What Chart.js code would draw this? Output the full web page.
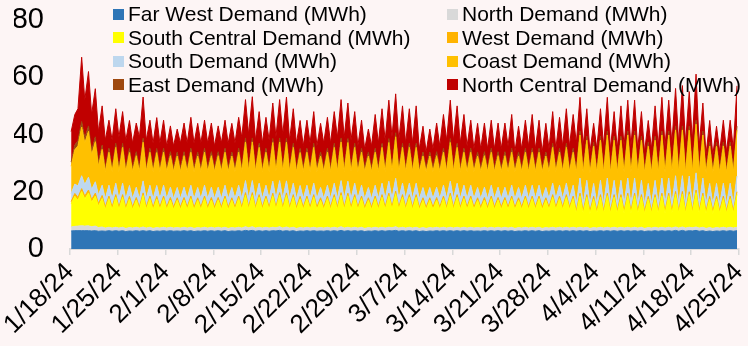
<!DOCTYPE html>
<html>
<head>
<meta charset="utf-8">
<script src="https://cdn.jsdelivr.net/npm/chart.js@4.4.1/dist/chart.umd.min.js"></script>
<style>
  html, body { margin: 0; padding: 0; background: #fdf5f5; }
  #wrap { position: relative; width: 748px; height: 346px; }
  #legend { position: absolute; left: 0; top: 0; width: 748px; height: 100px; pointer-events: none;
            font-family: "Liberation Sans", Arial, sans-serif; font-size: 21px; color: #000; }
  .item { position: absolute; height: 23.5px; line-height: 23.5px; white-space: nowrap; }
  .box { position: absolute; left: 0; top: 6.5px; width: 11px; height: 11px; }
  .txt { position: absolute; left: 15px; top: 0; }
</style>
</head>
<body>
<div id="wrap">
  <canvas id="chart" width="748" height="346"></canvas>
  <div id="legend"></div>
</div>
<script>
// Two readings per day (night low, evening high), 1/18/24 .. 4/24/24
const dayCount = 98;
const sampleHours = [4, 17];
const tickLabels = ['1/18/24', '1/25/24', '2/1/24', '2/8/24', '2/15/24', '2/22/24', '2/29/24',
  '3/7/24', '3/14/24', '3/21/24', '3/28/24', '4/4/24', '4/11/24', '4/18/24', '4/25/24'];

const seriesNames = ['Far West Demand (MWh)', 'North Demand (MWh)', 'South Central Demand (MWh)',
  'West Demand (MWh)', 'South Demand (MWh)', 'Coast Demand (MWh)', 'East Demand (MWh)',
  'North Central Demand (MWh)'];
const seriesColors = ['#2e75b6', '#d9d9d9', '#ffff00', '#ffb300', '#bdd7ee', '#ffc000', '#9e480e', '#c00000'];

// values per week row (7 days x [low, high])
const farWest = [
  6.3,6.4, 6.4,6.4, 6.4,6.4, 6.3,6.4, 6.2,6.3, 6.2,6.4, 6.2,6.4,
  6.2,6.4, 6.1,6.3, 6.2,6.4, 6.2,6.4, 6.2,6.4, 6.1,6.3, 6.2,6.4,
  6.2,6.4, 6.2,6.3, 6.2,6.4, 6.2,6.4, 6.1,6.3, 6.2,6.4, 6.2,6.4,
  6.2,6.4, 6.2,6.4, 6.1,6.3, 6.2,6.4, 6.2,6.5, 6.3,6.5, 6.2,6.4,
  6.2,6.4, 6.2,6.4, 6.3,6.5, 6.2,6.4, 6.2,6.4, 6.1,6.3, 6.2,6.4,
  6.2,6.4, 6.2,6.3, 6.2,6.4, 6.2,6.4, 6.2,6.5, 6.2,6.4, 6.2,6.4,
  6.2,6.4, 6.1,6.3, 6.2,6.4, 6.2,6.4, 6.2,6.4, 6.3,6.5, 6.2,6.4,
  6.2,6.4, 6.2,6.4, 6.1,6.3, 6.1,6.3, 6.2,6.4, 6.2,6.4, 6.2,6.4,
  6.2,6.4, 6.2,6.4, 6.2,6.4, 6.2,6.3, 6.2,6.4, 6.2,6.4, 6.2,6.4,
  6.2,6.4, 6.2,6.4, 6.1,6.3, 6.2,6.4, 6.2,6.4, 6.2,6.4, 6.1,6.3,
  6.2,6.4, 6.2,6.4, 6.2,6.4, 6.2,6.4, 6.2,6.4, 6.2,6.4, 6.1,6.3,
  6.2,6.4, 6.2,6.4, 6.2,6.4, 6.2,6.4, 6.2,6.4, 6.2,6.4, 6.2,6.4,
  6.1,6.3, 6.2,6.4, 6.2,6.4, 6.2,6.4, 6.2,6.5, 6.2,6.5, 6.2,6.4,
  6.3,6.5, 6.2,6.4, 6.1,6.3, 6.1,6.3, 6.2,6.4, 6.2,6.4, 6.2,6.4
];
const north = [
  1.4,1.5, 1.6,1.7, 1.6,1.7, 1.5,1.6, 1.3,1.4, 1.1,1.2, 1.1,1.2,
  1.1,1.2, 1.1,1.2, 1.1,1.2, 1.1,1.3, 1.1,1.2, 1.1,1.2, 1.1,1.2,
  1.1,1.2, 1.1,1.2, 1.1,1.2, 1.1,1.2, 1.1,1.2, 1.1,1.2, 1.1,1.2,
  1.1,1.2, 1.1,1.2, 1.1,1.2, 1.1,1.2, 1.1,1.3, 1.1,1.3, 1.1,1.2,
  1.1,1.2, 1.1,1.2, 1.1,1.3, 1.1,1.3, 1.1,1.2, 1.1,1.2, 1.1,1.2,
  1.1,1.2, 1.1,1.2, 1.1,1.2, 1.1,1.2, 1.1,1.3, 1.1,1.2, 1.1,1.2,
  1.1,1.2, 1.1,1.2, 1.1,1.2, 1.1,1.2, 1.1,1.2, 1.1,1.3, 1.1,1.2,
  1.1,1.2, 1.1,1.2, 1.1,1.2, 1.1,1.2, 1.1,1.2, 1.1,1.2, 1.1,1.2,
  1.1,1.2, 1.1,1.2, 1.1,1.2, 1.1,1.2, 1.1,1.2, 1.1,1.2, 1.1,1.2,
  1.1,1.2, 1.1,1.2, 1.1,1.2, 1.1,1.2, 1.1,1.2, 1.1,1.2, 1.1,1.2,
  1.1,1.2, 1.1,1.2, 1.1,1.2, 1.1,1.2, 1.1,1.2, 1.1,1.2, 1.1,1.2,
  1.1,1.2, 1.1,1.2, 1.1,1.2, 1.1,1.2, 1.1,1.2, 1.1,1.2, 1.1,1.2,
  1.1,1.2, 1.1,1.2, 1.1,1.2, 1.1,1.2, 1.1,1.2, 1.1,1.2, 1.1,1.2,
  1.1,1.2, 1.1,1.2, 1.1,1.2, 1.1,1.2, 1.1,1.2, 1.1,1.2, 1.1,1.2
];
const southCentral = [
  8,10.5, 9,12, 9.5,11.5, 8.5,10.5, 7.5,10, 6.5,10, 6.5,10.5,
  6.5,10.5, 6.5,10, 6.5,9.5, 6.5,11, 6.5,10, 6.5,10, 6.5,10,
  6.5,9.5, 6.5,9.5, 6.5,9.5, 6.5,10, 6.5,9.5, 6.5,10, 6.5,9.5,
  6.5,9.5, 6.5,10, 6.5,9.5, 6.5,10, 6.5,11, 6.5,11, 6.5,10.5,
  6.5,10, 6.5,11, 6.5,11, 6.5,11, 6.5,10.5, 6.5,10, 6.5,10,
  6.5,10.5, 6.5,9.5, 6.5,10, 6.5,10.5, 6.5,11, 6.5,11, 6.5,10.5,
  6.5,10, 6.5,9.5, 6.5,10, 6.5,10.5, 6.5,11, 6.5,11.5, 6.5,10.5,
  6.5,10.5, 6.5,10.5, 6.5,9.5, 6.5,9.5, 6.5,9.5, 6.5,10, 6.5,11,
  6.5,10.5, 6.5,10, 6.5,10, 6.5,9.5, 6.5,9.5, 6.5,10, 6.5,9.5,
  6.5,9.5, 6.5,10, 6.5,9.5, 6.5,10, 6.5,10, 6.5,10, 6.5,9.5,
  6.5,10.5, 6.5,10, 6.5,10.5, 6.5,10, 5.2,11, 5.2,10.5, 5.2,10,
  5.2,10.5, 5.2,11, 5.2,10.5, 5.2,10.5, 5.2,11, 5.2,11, 5.2,10.5,
  5.2,10, 5.2,10.5, 5.2,11, 5.2,11, 5.2,11.5, 5.2,11.5, 5.2,11.5,
  5.2,12, 5.2,11, 5.2,10, 5.2,10, 5.2,10, 5.2,10, 5.2,11.5
];
const west = [
  0.9,1, 1,1, 1,1, 1,1, 0.9,1, 0.9,0.9, 0.9,0.9,
  0.9,0.9, 0.9,0.9, 0.9,0.9, 0.9,0.9, 0.9,0.9, 0.9,0.9, 0.9,0.9,
  0.9,0.9, 0.9,0.9, 0.9,0.9, 0.9,0.9, 0.9,0.9, 0.9,0.9, 0.9,0.9,
  0.9,0.9, 0.9,0.9, 0.9,0.9, 0.9,0.9, 0.9,0.9, 0.9,0.9, 0.9,0.9,
  0.9,0.9, 0.9,0.9, 0.9,0.9, 0.9,0.9, 0.9,0.9, 0.9,0.9, 0.9,0.9,
  0.9,0.9, 0.9,0.9, 0.9,0.9, 0.9,0.9, 0.9,0.9, 0.9,0.9, 0.9,0.9,
  0.9,0.9, 0.9,0.9, 0.9,0.9, 0.9,0.9, 0.9,0.9, 0.9,0.9, 0.9,0.9,
  0.9,0.9, 0.9,0.9, 0.9,0.9, 0.9,0.9, 0.9,0.9, 0.9,0.9, 0.9,0.9,
  0.9,0.9, 0.9,0.9, 0.9,0.9, 0.9,0.9, 0.9,0.9, 0.9,0.9, 0.9,0.9,
  0.9,0.9, 0.9,0.9, 0.9,0.9, 0.9,0.9, 0.9,0.9, 0.9,0.9, 0.9,0.9,
  0.9,0.9, 0.9,0.9, 0.9,0.9, 0.9,0.9, 0.9,0.9, 0.9,0.9, 0.9,0.9,
  0.9,0.9, 0.9,0.9, 0.9,0.9, 0.9,0.9, 0.9,0.9, 0.9,0.9, 0.9,0.9,
  0.9,0.9, 0.9,0.9, 0.9,0.9, 0.9,0.9, 0.9,0.9, 0.9,0.9, 0.9,0.9,
  0.9,0.9, 0.9,0.9, 0.9,0.9, 0.9,0.9, 0.9,0.9, 0.9,0.9, 0.9,0.9
];
const south = [
  2.8,3.3, 4,4.5, 4,4.5, 3.5,4, 3,3.6, 2.9,3.8, 2.9,4,
  2.9,4, 2.9,3.8, 2.9,3.6, 2.9,4.2, 2.9,3.8, 2.9,3.8, 2.9,3.8,
  2.9,3.6, 2.9,3.6, 2.9,3.6, 2.9,3.8, 2.9,3.6, 2.9,3.8, 2.9,3.6,
  2.9,3.6, 2.9,3.8, 2.9,3.6, 2.9,3.8, 2.9,4.2, 2.9,4.2, 2.9,4,
  2.9,3.8, 2.9,4.2, 2.9,4.2, 2.9,4.2, 2.9,4, 2.9,3.8, 2.9,3.8,
  2.9,4, 2.9,3.6, 2.9,3.8, 2.9,4, 2.9,4.2, 2.9,4.2, 2.9,4,
  2.9,3.8, 2.9,3.6, 2.9,3.8, 2.9,4, 2.9,4.2, 2.9,4.5, 2.9,4,
  2.9,4, 2.9,4, 2.9,3.6, 2.9,3.6, 2.9,3.6, 2.9,3.8, 2.9,4.2,
  2.9,4, 2.9,3.8, 2.9,3.8, 2.9,3.6, 2.9,3.6, 2.9,3.8, 2.9,3.6,
  2.9,3.6, 2.9,3.8, 2.9,3.6, 2.9,3.8, 2.9,3.8, 2.9,3.8, 2.9,3.6,
  2.9,4, 2.9,3.8, 2.9,4, 2.9,3.8, 2.3,5.3, 2.3,5, 2.3,4.5,
  2.3,5, 2.3,5.3, 2.3,5, 2.3,5, 2.3,5.3, 2.3,5.3, 2.3,5,
  2.3,4.5, 2.3,5, 2.3,5.3, 2.3,5.3, 2.3,5.5, 2.3,5.5, 2.3,5.5,
  2.3,6, 2.3,5.3, 2.3,4.5, 2.3,4.5, 2.3,4.5, 2.3,4.5, 2.3,5.5
];
const coast = [
  9.5,12, 14,17, 14.5,16, 12,14, 10,12.5, 9.5,11.5, 9.5,12.5,
  9.5,12.5, 9.5,11.5, 9.5,11, 9.5,13.5, 9.5,11.5, 9.5,11.5, 9.5,11.5,
  9.5,11, 9.5,11, 9.5,11, 9.5,11.5, 9.5,11, 9.5,11.5, 9.5,11,
  9.5,11, 9.5,11.5, 9.5,11, 9.5,11.5, 9.5,13.5, 9.5,13.5, 9.5,12.5,
  9.5,11.5, 9.5,13.5, 9.5,13.5, 9.5,13.5, 9.5,12.5, 9.5,11.5, 9.5,11.5,
  9.5,12.5, 9.5,11, 9.5,11.5, 9.5,12.5, 9.5,13.5, 9.5,13.5, 9.5,12.5,
  9.5,11.5, 9.5,11, 9.5,11.5, 9.5,12.5, 9.5,13.5, 9.5,14.5, 9.5,12.5,
  9.5,12.5, 9.5,12.5, 9.5,11, 9.5,11, 9.5,11, 9.5,11.5, 9.5,13.5,
  9.5,12.5, 9.5,11.5, 9.5,11.5, 9.5,11, 9.5,11, 9.5,11.5, 9.5,11,
  9.5,11, 9.5,11.5, 9.5,11, 9.5,11.5, 9.5,11.5, 9.5,11.5, 9.5,11,
  9.5,12.5, 9.5,11.5, 9.5,12.5, 9.5,11.5, 11,15, 11,14, 11,13,
  11,14, 11,15, 11,14, 11,14, 11,15, 11,15, 11,14,
  11,13, 11,14, 11,15, 11,15, 11,16, 11,16, 11,16,
  11,17, 11,15, 11,13, 11,13, 11,13, 11,13, 11,16
];
const east = [
  1.5,1.6, 1.8,1.9, 1.8,1.9, 1.6,1.7, 1.4,1.5, 1.3,1.4, 1.3,1.4,
  1.3,1.4, 1.3,1.4, 1.3,1.4, 1.3,1.4, 1.3,1.4, 1.3,1.4, 1.3,1.4,
  1.3,1.4, 1.3,1.4, 1.3,1.4, 1.3,1.4, 1.3,1.4, 1.3,1.4, 1.3,1.4,
  1.3,1.4, 1.3,1.4, 1.3,1.4, 1.3,1.4, 1.3,1.4, 1.3,1.4, 1.3,1.4,
  1.3,1.4, 1.3,1.4, 1.3,1.4, 1.3,1.4, 1.3,1.4, 1.3,1.4, 1.3,1.4,
  1.3,1.4, 1.3,1.4, 1.3,1.4, 1.3,1.4, 1.3,1.4, 1.3,1.4, 1.3,1.4,
  1.3,1.4, 1.3,1.4, 1.3,1.4, 1.3,1.4, 1.3,1.4, 1.3,1.4, 1.3,1.4,
  1.3,1.4, 1.3,1.4, 1.3,1.4, 1.3,1.4, 1.3,1.4, 1.3,1.4, 1.3,1.4,
  1.3,1.4, 1.3,1.4, 1.3,1.4, 1.3,1.4, 1.3,1.4, 1.3,1.4, 1.3,1.4,
  1.3,1.4, 1.3,1.4, 1.3,1.4, 1.3,1.4, 1.3,1.4, 1.3,1.4, 1.3,1.4,
  1.3,1.4, 1.3,1.4, 1.3,1.4, 1.3,1.4, 1.3,1.4, 1.3,1.4, 1.3,1.4,
  1.3,1.4, 1.3,1.4, 1.3,1.4, 1.3,1.4, 1.3,1.4, 1.3,1.4, 1.3,1.4,
  1.3,1.4, 1.3,1.4, 1.3,1.4, 1.3,1.4, 1.3,1.4, 1.3,1.4, 1.3,1.4,
  1.3,1.4, 1.3,1.4, 1.3,1.4, 1.3,1.4, 1.3,1.4, 1.3,1.4, 1.3,1.4
];
const northCentral = [
  10.6,10.7, 11.2,22.5, 13.2,19, 12.6,16.8, 10.7,13.7, 9.6,9.8, 9.6,12.1,
  10.6,11.1, 9.6,9.8, 8.6,10, 10.6,14.4, 9.6,9.8, 8.6,10.8, 8.6,9.8,
  7.6,9, 7.6,8, 8.6,10, 8.6,10.8, 8.6,10, 8.6,9.8, 8.6,10,
  7.6,9, 8.6,9.8, 8.6,10, 8.6,10.8, 10.6,13.4, 11.6,14.4, 9.6,11.1,
  8.6,10.8, 9.6,12.4, 10.6,13.4, 11.6,14.4, 9.6,12.1, 8.6,9.8, 7.6,9.8,
  8.6,11.1, 7.6,10, 8.6,10.8, 8.6,11.1, 10.6,13.4, 10.6,12.4, 9.6,11.1,
  7.6,9.8, 6.6,8, 7.6,11.8, 8.6,12.1, 9.6,13.4, 10.6,13.6, 9.6,13.1,
  8.6,12.1, 8.6,13.1, 6.6,9, 5.6,8, 6.6,10, 7.6,11.8, 9.6,13.4,
  9.6,13.1, 8.6,11.8, 7.6,9.8, 6.6,10, 6.6,10, 6.6,9.8, 6.6,10,
  6.6,10, 7.6,11.8, 5.6,9, 6.6,9.8, 7.6,11.8, 6.6,9.8, 5.6,10,
  6.6,11.1, 6.6,10.8, 7.6,12.1, 7.6,11.8, 9,11.8, 8,9.6, 6,6.6,
  7,9.6, 8,11.8, 7,8.6, 7,10.6, 8,10.8, 8,10.8, 7,8.6,
  6,7.6, 7,10.6, 8,11.8, 8,10.8, 9,13.1, 9,14.1, 9,12.1,
  10,16.1, 8,9.8, 5,7.6, 5,5.6, 6,7.6, 6,7.6, 7,14.1
];

const seriesValues = [farWest, north, southCentral, west, south, coast, east, northCentral];

function buildChart() {
    const times = [];
    for (let d = 0; d < dayCount; d++) {
        sampleHours.forEach(h => times.push(d + h / 24));
    }

    const datasets = seriesValues.map((vals, i) => ({
        label: seriesNames[i],
        data: vals.map((v, j) => ({ x: times[j], y: v })),
        backgroundColor: seriesColors[i],
        borderColor: seriesColors[i],
        borderWidth: 1,
        pointRadius: 0,
        tension: 0,
        fill: i === 0 ? 'origin' : '-1'
    }));

    Chart.defaults.font.family = '"Liberation Sans", Arial, sans-serif';
    Chart.defaults.color = '#000';

    new Chart(document.getElementById('chart').getContext('2d'), {
        type: 'line',
        data: { datasets },
        options: {
            responsive: false,
            animation: false,
            layout: { padding: { left: 14, right: 9, top: 20, bottom: 4 } },
            plugins: { legend: { display: false }, tooltip: { enabled: false } },
            scales: {
                x: {
                    type: 'linear',
                    min: 0,
                    max: dayCount,
                    ticks: {
                        stepSize: 7,
                        autoSkip: false,
                        minRotation: 45,
                        maxRotation: 45,
                        padding: 2,
                        font: { size: 26 },
                        callback: v => tickLabels[Math.round(v / 7)]
                    },
                    grid: { drawOnChartArea: false, color: '#d9d9d9', tickLength: 6, lineWidth: 1.5 },
                    border: { color: '#d9d9d9', width: 2 },
                    afterFit: scale => {
                        // rotated labels may run past the left edge, as in the original
                        scale.paddingLeft = 0;
                        scale.paddingRight = 0;
                        scale.height = 93;
                    }
                },
                y: {
                    stacked: true,
                    min: 0,
                    max: 80,
                    ticks: { stepSize: 20, padding: 26, font: { size: 29 } },
                    grid: { display: false, drawTicks: false },
                    border: { display: false },
                    afterFit: scale => {
                        scale.paddingTop = 0;
                        scale.paddingBottom = 0;
                        scale.width = 56;
                    }
                }
            }
        }
    });

    // legend: two columns, four rows, over the top of the plot
    const legend = document.getElementById('legend');
    legend.innerHTML = seriesNames.map((name, i) => {
        const left = i % 2 === 0 ? 113 : 447;
        const top = 2 + Math.floor(i / 2) * 23.5;
        return `<div class="item" style="left:${left}px;top:${top}px">
                  <span class="box" style="background:${seriesColors[i]}"></span>
                  <span class="txt">${name}</span>
                </div>`;
    }).join('');
}

document.addEventListener('DOMContentLoaded', buildChart);
</script>
</body>
</html>
